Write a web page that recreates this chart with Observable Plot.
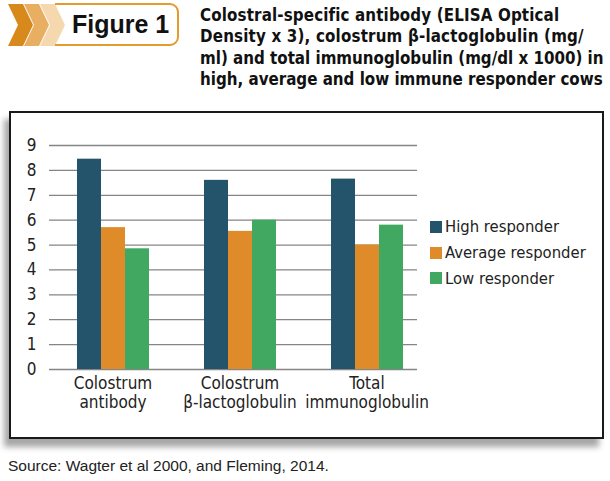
<!DOCTYPE html>
<html>
<head>
<meta charset="utf-8">
<script src="https://cdn.jsdelivr.net/npm/d3@7"></script>
<script src="https://cdn.jsdelivr.net/npm/@observablehq/plot@0.6"></script>
<style>
  html, body { margin: 0; padding: 0; background: #fff; }
  body { width: 610px; height: 481px; position: relative; overflow: hidden; }
  #badge { position: absolute; left: 0; top: 0; }
  #title {
    position: absolute; left: 200px; top: 5px;
    font-family: "DejaVu Sans Condensed", sans-serif;
    font-weight: bold; font-size: 16.8px; line-height: 21.3px; color: #111;
    white-space: nowrap;
  }
  #title span { display: block; }
  #box {
    position: absolute; left: 9px; top: 111px; width: 595px; height: 328px;
    box-sizing: border-box; border: 2px solid #1a1a1a; background: #fff;
    box-shadow: -5px 8px 6px rgba(0,0,0,0.35);
  }
  #box svg { position: absolute; left: 0; top: 0; }
  #legend {
    position: absolute; left: 419px; top: 101px;
    font-family: "DejaVu Sans Condensed", sans-serif;
    font-size: 16.5px; color: #222;
  }
  .row { display: flex; align-items: center; height: 25.7px; }
  .sw { width: 12px; height: 12px; margin-right: 3px; }
  #source {
    position: absolute; left: 8px; top: 457px;
    font-family: "Liberation Sans", Arial, sans-serif; font-size: 15.5px; color: #222;
  }
</style>
</head>
<body>
<svg id="badge" width="185" height="50">
  <polygon points="8,4 23,4 33,25 23,46 8,46 18,25" fill="#d8891c"/>
  <polygon points="24,4 39,4 49,25 39,46 24,46 34,25" fill="#e8af62"/>
  <polygon points="40,4 55,4 65,25 55,46 40,46 50,25" fill="#f5d8ad"/>
  <path d="M55,4 H170 A8,8 0 0 1 178,12 V37 A8,8 0 0 1 170,45 H55" fill="none" stroke="#e49a2c" stroke-width="2"/>
  <text x="72" y="33" font-family="Liberation Sans, Arial, sans-serif" font-weight="bold" font-size="25" fill="#111">Figure 1</text>
</svg>
<div id="title"><span style="letter-spacing:0.14px">Colostral-specific antibody (ELISA Optical</span><span style="letter-spacing:0.18px">Density x 3), colostrum β-lactoglobulin (mg/</span><span>ml) and total immunoglobulin (mg/dl x 1000) in</span><span>high, average and low immune responder cows</span></div>
<div id="box"><div id="legend"></div></div>
<div id="source">Source: Wagter et al 2000, and Fleming, 2014.</div>
<script>
// Measures shown on the x axis (two-line labels)
const categories = ["Colostrum\nantibody", "Colostrum\nβ-lactoglobulin", "Total\nimmunoglobulin"];
// Responder groups
const series = ["High responder", "Average responder", "Low responder"];
const highValues = [8.45, 7.6, 7.65];
const averageValues = [5.7, 5.55, 5.0];
const lowValues = [4.85, 6.0, 5.8];
const colors = ["#24536c", "#df8b2a", "#41a862"];
const yTicks = [0, 1, 2, 3, 4, 5, 6, 7, 8, 9];

const seriesValues = [highValues, averageValues, lowValues];
const data = categories.flatMap((category, i) =>
  series.map((s, j) => ({category, series: s, value: seriesValues[j][i]}))
);
// one horizontal gridline per tick in each category panel
const grid = categories.flatMap(category => yTicks.map(value => ({category, value})));
const lastCategory = categories[categories.length - 1];

const narrow = "DejaVu Sans Condensed, sans-serif";

const chart = Plot.plot({
  width: 591,
  height: 324,
  marginTop: 32,
  marginBottom: 68,
  marginLeft: 37,
  marginRight: 185,
  style: {
    fontFamily: narrow,
    fontSize: "17px",
    color: "#222",
    background: "transparent",
    overflow: "visible"
  },
  fx: {domain: categories, range: [37, 419], padding: 0, axis: null, label: null},
  x: {domain: series, range: [64, 137], padding: 0, axis: null},
  y: {domain: [0, 9], ticks: yTicks, tickSize: 0, tickPadding: 13, label: null},
  color: {domain: series, range: colors},
  marks: [
    Plot.ruleY(grid, {filter: d => d.category !== lastCategory, fx: "category", y: "value", stroke: "#858585", strokeWidth: 1.3}),
    Plot.ruleY(grid, {filter: d => d.category === lastCategory, fx: "category", y: "value", stroke: "#858585", strokeWidth: 1.3, insetRight: 13}),
    Plot.barY(data, {fx: "category", x: "series", y: "value", fill: "series"}),
    Plot.text(data, {
      filter: d => d.series === series[0],
      fx: "category",
      text: "category",
      frameAnchor: "bottom",
      lineAnchor: "top",
      lineHeight: 1.12,
      dy: 6,
      fontSize: 17,
      fill: "#222"
    })
  ]
});
document.getElementById("box").prepend(chart);

// Legend swatches beside the plot
const legend = d3.select("#legend");
series.forEach((s, i) => {
  const row = legend.append("div").attr("class", "row");
  row.append("div").attr("class", "sw").style("background", colors[i]);
  row.append("span").text(s);
});
</script>
</body>
</html>
